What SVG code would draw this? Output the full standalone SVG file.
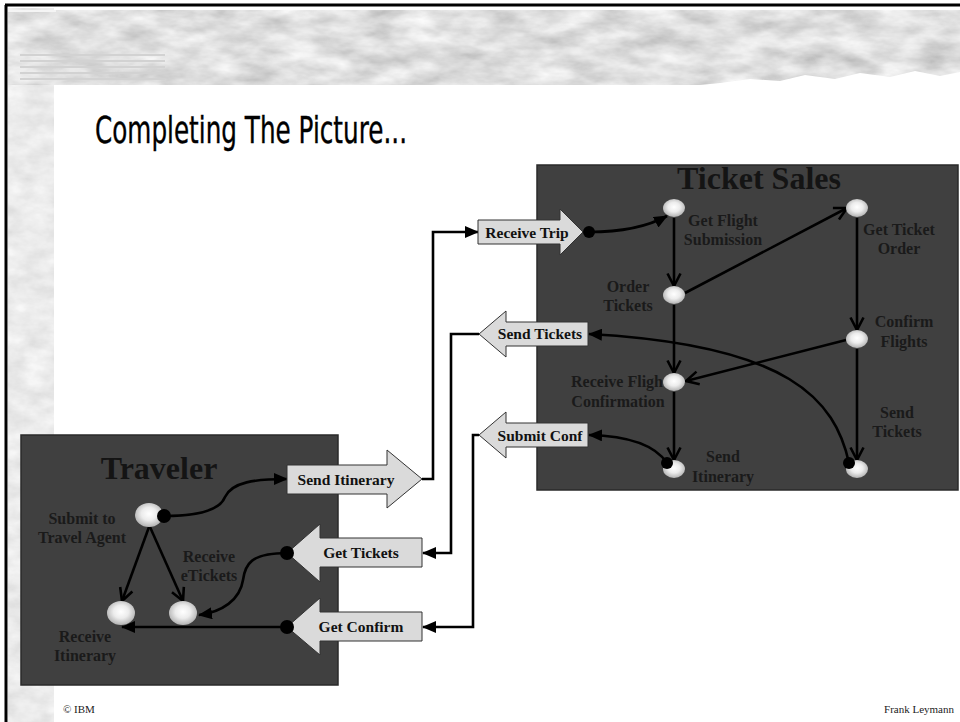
<svg xmlns="http://www.w3.org/2000/svg" width="960" height="722" viewBox="0 0 960 722">
<defs>
<style>
.box{fill:#404040;stroke:#2a2a2a;stroke-width:1.5}
.title{font-family:"Liberation Serif",serif;font-weight:bold;font-size:32px;fill:#141414;text-anchor:middle}
.lbl{font-family:"Liberation Serif",serif;font-weight:bold;font-size:16px;fill:#1a1a1a;text-anchor:middle}
.ifc{fill:#dadada;stroke:#333;stroke-width:1}
.itx{font-family:"Liberation Serif",serif;font-weight:bold;font-size:15.5px;fill:#111;text-anchor:middle}
.flow{fill:none;stroke:#000;stroke-width:2.6;marker-end:url(#open)}
.msg{fill:none;stroke:#000;stroke-width:2.6;marker-end:url(#fill)}
.node{fill:url(#ng)}
.dot{fill:#000}
.foot{font-family:"Liberation Serif",serif;font-size:11px;fill:#222}
</style>
<radialGradient id="ng" cx="0.5" cy="0.45" r="0.6">
<stop offset="0" stop-color="#ffffff"/>
<stop offset="0.45" stop-color="#ececec"/>
<stop offset="1" stop-color="#a8a8a8"/>
</radialGradient>
<marker id="open" markerUnits="userSpaceOnUse" viewBox="0 0 16 16" markerWidth="16" markerHeight="16" refX="14" refY="8" orient="auto">
<path d="M1.5,1.5 L14,8 L1.5,14.5" fill="none" stroke="#000" stroke-width="2.6"/>
</marker>
<marker id="fill" markerUnits="userSpaceOnUse" viewBox="0 0 14 12" markerWidth="14" markerHeight="12" refX="13" refY="6" orient="auto">
<path d="M0,0 L14,6 L0,12 z" fill="#000"/>
</marker>
<filter id="tex" x="0" y="0" width="1" height="1">
<feTurbulence type="fractalNoise" baseFrequency="0.04 0.07" numOctaves="4" seed="3" result="n"/>
<feColorMatrix in="n" type="matrix" values="0.3 0 0 0 0.68  0.3 0 0 0 0.68  0.3 0 0 0 0.68  0 0 0 0 1" result="g"/>
<feComposite in="g" in2="SourceGraphic" operator="in"/>
</filter>
<filter id="tex2" x="0" y="0" width="1" height="1">
<feTurbulence type="fractalNoise" baseFrequency="0.025 0.06" numOctaves="4" seed="7" result="n"/>
<feColorMatrix in="n" type="matrix" values="0.6 0 0 0 0.44  0.6 0 0 0 0.44  0.6 0 0 0 0.44  0 0 0 0 1" result="g"/>
<feComposite in="g" in2="SourceGraphic" operator="in"/>
</filter>
</defs>

<rect width="960" height="722" fill="#ffffff"/>

<g id="background">
<rect x="8" y="8" width="46" height="714" fill="#d8d8d8" filter="url(#tex)"/>
<rect x="8" y="10" width="952" height="75" fill="#bbbbbb" filter="url(#tex2)"/>
<rect x="8" y="10" width="48" height="2" fill="#f4f4f4"/>
<g stroke="#d2d2d2" stroke-width="2">
<line x1="20" y1="55" x2="165" y2="55"/>
<line x1="20" y1="61" x2="165" y2="61"/>
<line x1="20" y1="67" x2="165" y2="67"/>
<line x1="20" y1="73" x2="165" y2="73"/>
<line x1="20" y1="79" x2="165" y2="79"/>
</g>
<path d="M690,86 L960,86 L960,72 L940,76 L915,71 L890,77 L860,73 L835,79 L805,75 L780,81 L750,79 L720,83 Z" fill="#ffffff"/>
</g>

<g id="frame" stroke="#000" stroke-width="3">
<line x1="5" y1="5" x2="960" y2="5"/>
<line x1="6" y1="5" x2="6" y2="722"/>
</g>

<text id="heading" x="95" y="143" font-family="'DejaVu Sans',sans-serif" font-size="38" fill="#000" stroke="#000" stroke-width="0.4" textLength="312" lengthAdjust="spacingAndGlyphs">Completing The Picture...</text>

<g id="ticket-sales">
<rect class="box" x="537" y="165" width="421" height="325"/>
<text class="title" x="759" y="189">Ticket Sales</text>
</g>

<g id="traveler">
<rect class="box" x="21" y="435" width="317" height="250"/>
<text class="title" x="159" y="479">Traveler</text>
</g>

<g id="connectors">
<path class="flow" d="M674,218 V286"/>
<path class="flow" d="M685,293 L847,208"/>
<path class="flow" d="M857,218 V330"/>
<path class="flow" d="M846,340 L686,381"/>
<path class="flow" d="M674,305 V373"/>
<path class="flow" d="M674,392 V460"/>
<path class="flow" d="M857,349 V460"/>
<path class="msg" d="M589,232 C620,232 645,228 667,216"/>
<path class="msg" d="M667,463 C655,445 630,436 589,435"/>
<path class="msg" d="M849,463 C835,400 790,345 589,334"/>
<path class="flow" d="M149,527 L122,601"/>
<path class="flow" d="M150,527 L183,601"/>
<path class="msg" d="M164,516 C200,516 220,510 225,497 C232,482 255,479 287,479"/>
<path class="msg" d="M287,553 C250,553 245,565 243,580 C240,600 222,612 199,615"/>
<path class="msg" d="M287,627 H122"/>
<path class="msg" d="M422,479 H433 V232 H478"/>
<path class="msg" d="M479,334 H451 V553 H423"/>
<path class="msg" d="M479,435 H473 V627 H423"/>
</g>

<g id="n-get-flight"><ellipse class="node" cx="674" cy="208" rx="11" ry="9"/><text class="lbl" x="723" y="226">Get Flight</text><text class="lbl" x="723" y="245">Submission</text></g>
<g id="n-get-ticket-order"><ellipse class="node" cx="857" cy="208" rx="11" ry="9"/><text class="lbl" x="899" y="235">Get Ticket</text><text class="lbl" x="899" y="254">Order</text></g>
<g id="n-order-tickets"><ellipse class="node" cx="674" cy="295" rx="11" ry="9"/><text class="lbl" x="628" y="292">Order</text><text class="lbl" x="628" y="311">Tickets</text></g>
<g id="n-confirm-flights"><ellipse class="node" cx="857" cy="339" rx="11" ry="9"/><text class="lbl" x="904" y="327">Confirm</text><text class="lbl" x="904" y="347">Flights</text></g>
<g id="n-receive-flight"><text class="lbl" x="617" y="387">Receive Fligh</text><text class="lbl" x="618" y="407">Confirmation</text><ellipse class="node" cx="674" cy="382" rx="11" ry="9"/></g>
<g id="n-send-itinerary"><ellipse class="node" cx="674" cy="469" rx="11" ry="9"/><circle class="dot" cx="667" cy="463" r="6"/><text class="lbl" x="723" y="462">Send</text><text class="lbl" x="723" y="482">Itinerary</text></g>
<g id="n-send-tickets"><ellipse class="node" cx="857" cy="469" rx="11" ry="9"/><circle class="dot" cx="849" cy="463" r="6"/><text class="lbl" x="897" y="418">Send</text><text class="lbl" x="897" y="437">Tickets</text></g>

<g id="n-submit"><ellipse class="node" cx="149" cy="515" rx="14" ry="12"/><circle class="dot" cx="164" cy="516" r="7"/><text class="lbl" x="82" y="524">Submit to</text><text class="lbl" x="82" y="543">Travel Agent</text></g>
<g id="n-receive-itinerary"><ellipse class="node" cx="121" cy="613" rx="14" ry="12"/><text class="lbl" x="85" y="642">Receive</text><text class="lbl" x="85" y="661">Itinerary</text></g>
<g id="n-receive-etickets"><ellipse class="node" cx="183" cy="613" rx="14" ry="12"/><text class="lbl" x="209" y="562">Receive</text><text class="lbl" x="209" y="581">eTickets</text></g>

<g id="i-receive-trip"><polygon class="ifc" points="478,220 560,220 560,209 583,232 560,255 560,244 478,244"/><circle class="dot" cx="589" cy="232" r="6"/><text class="itx" x="527" y="238">Receive Trip</text></g>
<g id="i-send-tickets"><polygon class="ifc" points="479,334 506,311 506,322 588,322 588,346 506,346 506,357"/><text class="itx" x="540" y="339">Send Tickets</text></g>
<g id="i-submit-conf"><polygon class="ifc" points="479,435 506,412 506,423 588,423 588,447 506,447 506,458"/><text class="itx" x="540" y="441">Submit Conf</text></g>
<g id="i-send-itinerary"><polygon class="ifc" points="287,465 387,465 387,450 422,479 387,508 387,494 287,494"/><text class="itx" x="346" y="485">Send Itinerary</text></g>
<g id="i-get-tickets"><polygon class="ifc" points="287,553 320,524 320,538 422,538 422,567 320,567 320,582"/><circle class="dot" cx="287" cy="553" r="7"/><text class="itx" x="361" y="558">Get Tickets</text></g>
<g id="i-get-confirm"><polygon class="ifc" points="287,627 320,598 320,612 422,612 422,641 320,641 320,655"/><circle class="dot" cx="287" cy="627" r="7"/><text class="itx" x="361" y="632">Get Confirm</text></g>

<text class="foot" x="63" y="713">© IBM</text>
<text class="foot" x="954" y="713" text-anchor="end">Frank Leymann</text>
</svg>
